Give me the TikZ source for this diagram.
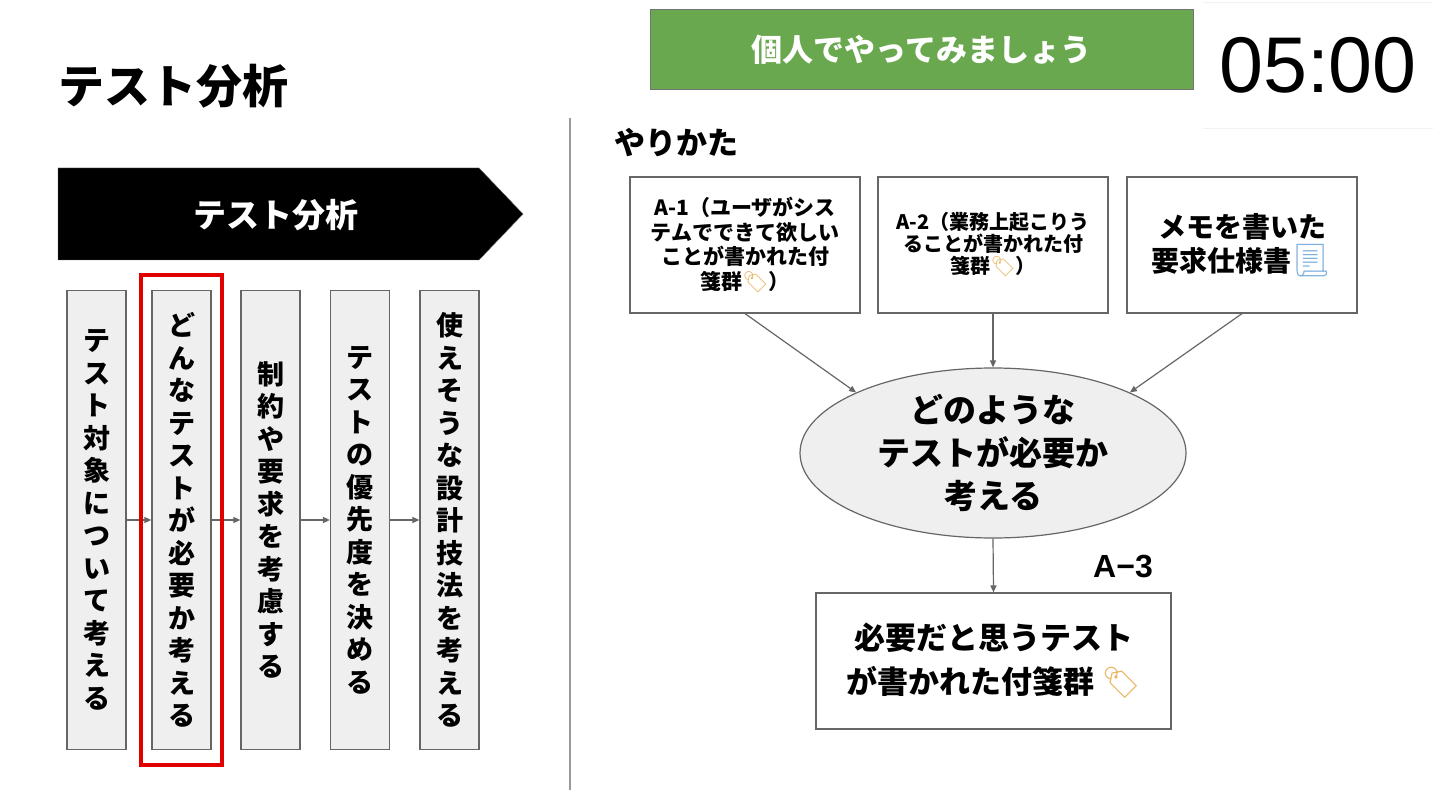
\documentclass[tikz,border=0pt]{standalone}
\usepackage{fontspec}
\setmainfont{Noto Sans CJK JP}
\newfontfamily\emoji{Noto Emoji}
\newfontfamily\arial{Liberation Sans}
\usetikzlibrary{arrows.meta,shapes.geometric,fit}
\definecolor{boxgray}{HTML}{EFEFEF}
\definecolor{linegray}{HTML}{666666}
\definecolor{slidegreen}{HTML}{6AA84F}
\definecolor{markred}{HTML}{E00000}
\definecolor{tagcol}{HTML}{EBB563}
\definecolor{doccol}{HTML}{7FB0DE}
\newcommand\fsz[2]{\fontsize{#1}{#2}\selectfont\bfseries}
\newcommand\fusen{{\emoji\color{tagcol}🏷}}
\newcommand\memo{{\emoji\color{doccol}\fontsize{32}{34}\selectfont📃}}

\begin{document}
\begin{tikzpicture}[x=1pt,y=-1pt,
  stepbox/.style={draw=linegray,fill=boxgray,line width=1.2pt,minimum width=59pt,
    minimum height=459pt,inner sep=0pt,align=center,font=\fsz{27}{32.5}},
  card/.style={draw=linegray,fill=white,line width=1.2pt,minimum width=230pt,
    minimum height=136pt,inner sep=0pt,align=center},
  conn/.style={draw=linegray,line width=1.2pt,-{Triangle[length=7pt,width=6pt]}}]
  \useasboundingbox (0,0) rectangle (1440,810);
  % heading
  \node[font=\fsz{46}{50}] (title) at (173,86) {テスト分析};
  \node[fill=slidegreen,draw=black!55,line width=1pt,minimum width=543pt,minimum height=80pt,
    text=white,font=\fsz{31}{36}] (solo) at (921.5,50) {個人でやってみましょう};
  \node[minimum width=230pt,minimum height=126pt,
    font=\arial\fontsize{79}{90}\selectfont] (timer) at (1318,65) {05:00};
  \draw[black!5] (timer.north west) -- (timer.north east);
  \draw[black!5] (timer.south west) -- (timer.south east);
  \draw[black!40,line width=1.5pt] (570,118) -- (570,790);
  \node[font=\fsz{31}{36}] (how) at (676,143) {やりかた};

  % left: steps of the phase
  \draw[fill=black,draw=black!60] (58,168) -- (479,168) -- (523,214) -- (479,260) -- (58,260) -- cycle;
  \node[text=white,font=\fsz{33}{38}] (phase) at (276,215) {テスト分析};
  \foreach \x/\t [count=\i] in {
      96.5/{テ\\ス\\ト\\対\\象\\に\\つ\\い\\て\\考\\え\\る},
      181.5/{ど\\ん\\な\\テ\\ス\\ト\\が\\必\\要\\か\\考\\え\\る},
      270.5/{制\\約\\や\\要\\求\\を\\考\\慮\\す\\る},
      360/{テ\\ス\\ト\\の\\優\\先\\度\\を\\決\\め\\る},
      449.5/{使\\え\\そ\\う\\な\\設\\計\\技\\法\\を\\考\\え\\る}}
    \node[stepbox] (s\i) at (\x,520) {\t};
  \foreach \i/\j in {1/2,2/3,3/4,4/5}
    \draw[conn] (s\i) -- (s\j);
  \node[draw=markred,line width=4pt,fit=(s2),inner xsep=10pt,inner ysep=15pt] (pick) {};

  % right: how to do it
  \node[card,font=\fsz{21}{24.5}] (a1) at (745,245) {A-1（ユーザがシス\\テムでできて欲しい\\ことが書かれた付\\箋群\fusen）};
  \node[card,font=\fsz{20}{22}] (a2) at (993,245) {A-2（業務上起こりう\\ることが書かれた付\\箋群\fusen）};
  \node[card,font=\fsz{28}{34}] (a3) at (1242,245) {メモを書いた\\要求仕様書\memo};
  \node[ellipse,draw=linegray,fill=boxgray,line width=1.2pt,minimum width=386pt,minimum height=170pt,
    inner sep=0pt,align=center,font=\fsz{33}{43}] (think) at (993,453) {どのような\\テストが必要か\\考える};
  \node[card,minimum width=355pt,font=\fsz{31}{44}] (sheet) at (993.5,661) {必要だと思うテスト\\が書かれた付箋群 \fusen};
  \node[font=\arial\bfseries\fontsize{32}{36}\selectfont] (a3lab) at (1123,567) {A−3};
  \draw[conn] (a1.south) -- (think.north west);
  \draw[conn] (a2.south) -- (think.north);
  \draw[conn] (a3.south) -- (think.north east);
  \draw[conn] (think.south) -- (sheet.north);
\end{tikzpicture}
\end{document}
